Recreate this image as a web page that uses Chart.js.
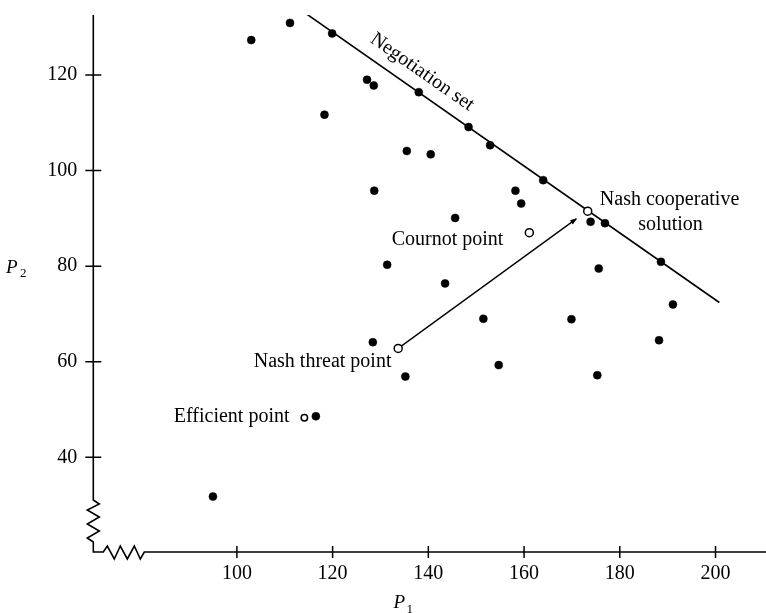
<!DOCTYPE html>
<html>
<head>
<meta charset="utf-8">
<script src="https://cdn.jsdelivr.net/npm/chart.js@4.4.1/dist/chart.umd.min.js"></script>
<style>
  html, body { margin: 0; padding: 0; background: #fff; }
  canvas { display: block; }
</style>
</head>
<body>
<canvas id="myChart" width="766" height="613"></canvas>
<script>
// outcomes (P1, P2)
const filledP1 = [103.0, 111.1, 119.9, 118.3, 127.2, 128.6, 138.0, 148.4, 152.9, 135.5, 140.5,
  164.0, 128.7, 158.2, 159.4, 145.6, 173.9, 176.9, 188.6, 175.6, 191.1, 131.4, 143.5, 151.5,
  169.9, 188.2, 128.4, 135.2, 154.7, 175.3, 116.5, 95.0];
const filledP2 = [127.3, 130.9, 128.7, 111.7, 119.0, 117.8, 116.4, 109.1, 105.3, 104.1, 103.4,
  98.0, 95.8, 95.8, 93.1, 90.1, 89.3, 89.0, 80.9, 79.5, 72.0, 80.3, 76.4, 69.0,
  68.9, 64.5, 64.1, 56.9, 59.3, 57.2, 48.6, 31.8];

// special points (open circles)
const openNames = ["Nash threat point", "Cournot point", "Nash cooperative solution", "Efficient point"];
const openP1 = [133.7, 161.1, 173.3, 114.1];
const openP2 = [62.8, 87.0, 91.5, 48.3];

// negotiation set line and the threat -> cooperative arrow
const negotiationP1 = [112.5, 200.8];
const negotiationP2 = [134.2, 72.4];
const arrowP1 = [133.7, 170.9];
const arrowP2 = [62.8, 89.9];

const p1Ticks = [100, 120, 140, 160, 180, 200];
const p2Ticks = [40, 60, 80, 100, 120];

// text labels, anchored in data units
const textLabels = [
  { text: "Negotiation set", x: 138.7, y: 120.6, align: "center", along: true },
  { text: "Nash cooperative", x: 190.4, y: 93.8, align: "center" },
  { text: "solution", x: 190.6, y: 88.6, align: "center" },
  { text: "Cournot point", x: 144.0, y: 85.5, align: "center" },
  { text: "Nash threat point", x: 132.3, y: 60.0, align: "right" },
  { text: "Efficient point", x: 111.0, y: 48.5, align: "right" }
];

const serif = '"Liberation Serif", "Times New Roman", serif';

function pts(xs, ys) {
  return xs.map((v, i) => ({ x: v, y: ys[i] }));
}

// axes with the zigzag breaks, tick marks crossing the axes
const axesPlugin = {
  id: "brokenAxes",
  afterDraw(chart) {
    const ctx = chart.ctx;
    const a = chart.chartArea;
    const x = chart.scales.x, y = chart.scales.y;
    const L = a.left, B = a.bottom;
    ctx.save();
    ctx.strokeStyle = "#000";
    ctx.lineWidth = 1.6;
    ctx.beginPath();
    ctx.moveTo(L, a.top);
    ctx.lineTo(L, B - 52);
    const yz = [[6, -48], [-6, -42], [6, -35], [-6, -28], [6, -21], [-6, -14], [0, -10], [0, 0]];
    yz.forEach(p => ctx.lineTo(L + p[0], B + p[1]));
    const xz = [[10, 0], [14, -6], [21, 7], [27, -6], [34, 7], [41, -6], [47, 7], [51, 0], [chart.width - L, 0]];
    xz.forEach(p => ctx.lineTo(L + p[0], B + p[1]));
    ctx.stroke();

    ctx.lineWidth = 1.5;
    ctx.beginPath();
    p1Ticks.forEach(v => {
      const px = x.getPixelForValue(v);
      ctx.moveTo(px, B - 6);
      ctx.lineTo(px, B + 6);
    });
    p2Ticks.forEach(v => {
      const py = y.getPixelForValue(v);
      ctx.moveTo(L - 8, py);
      ctx.lineTo(L + 8, py);
    });
    ctx.stroke();

    // axis titles
    ctx.fillStyle = "#000";
    ctx.textBaseline = "alphabetic";
    ctx.textAlign = "left";
    const py2 = y.getPixelForValue(80);
    ctx.font = "italic 19px " + serif;
    ctx.fillText("P", 6, py2 + 7);
    ctx.font = "13px " + serif;
    ctx.fillText("2", 20, py2 + 11);
    const px1 = x.getPixelForValue(134);
    ctx.font = "italic 19px " + serif;
    ctx.fillText("P", px1 - 6, B + 56);
    ctx.font = "13px " + serif;
    ctx.fillText("1", px1 + 7, B + 61);
    ctx.restore();
  }
};

const labelPlugin = {
  id: "textLabels",
  afterDatasetsDraw(chart) {
    const ctx = chart.ctx;
    const x = chart.scales.x, y = chart.scales.y;
    const ang = Math.atan2(
      y.getPixelForValue(negotiationP2[1]) - y.getPixelForValue(negotiationP2[0]),
      x.getPixelForValue(negotiationP1[1]) - x.getPixelForValue(negotiationP1[0]));
    ctx.save();
    ctx.fillStyle = "#000";
    ctx.font = "20px " + serif;
    ctx.textBaseline = "middle";
    textLabels.forEach(l => {
      const px = x.getPixelForValue(l.x), py = y.getPixelForValue(l.y);
      ctx.save();
      ctx.translate(px, py);
      if (l.along) ctx.rotate(ang);
      ctx.textAlign = l.align;
      ctx.fillText(l.text, 0, 0);
      ctx.restore();
    });

    // arrow head at the end of the threat line
    const x0 = x.getPixelForValue(arrowP1[0]), y0 = y.getPixelForValue(arrowP2[0]);
    const x1 = x.getPixelForValue(arrowP1[1]), y1 = y.getPixelForValue(arrowP2[1]);
    const t = Math.atan2(y1 - y0, x1 - x0);
    ctx.translate(x1, y1);
    ctx.rotate(t);
    ctx.beginPath();
    ctx.moveTo(1, 0);
    ctx.lineTo(-6, -2.5);
    ctx.lineTo(-6, 2.5);
    ctx.closePath();
    ctx.fill();
    ctx.restore();
  }
};

new Chart("myChart", {
  type: "scatter",
  data: {
    datasets: [
      {
        data: pts(openP1, openP2),
        pointRadius: ctx => openNames[ctx.dataIndex] === "Efficient point" ? 3.2 : 4,
        pointBackgroundColor: "#fff",
        pointBorderColor: "#000",
        pointBorderWidth: 1.5
      },
      {
        data: pts(filledP1, filledP2),
        pointRadius: 4,
        pointBackgroundColor: "#000",
        pointBorderColor: "#000",
        pointBorderWidth: 0.5
      },
      {
        data: pts(negotiationP1, negotiationP2),
        showLine: true,
        borderColor: "#000",
        borderWidth: 1.6,
        pointRadius: 0
      },
      {
        data: pts(arrowP1, arrowP2),
        showLine: true,
        borderColor: "#000",
        borderWidth: 1.4,
        pointRadius: 0
      }
    ]
  },
  options: {
    responsive: false,
    animation: false,
    devicePixelRatio: 1,
    layout: { padding: { top: 15, right: 0, bottom: 0, left: 0 } },
    plugins: {
      legend: { display: false },
      tooltip: { enabled: false }
    },
    scales: {
      x: {
        type: "linear",
        min: 70,
        max: 209.4,
        grid: { display: false, drawTicks: false },
        border: { display: false },
        ticks: { color: "#000", padding: 10, font: { family: serif, size: 20 } },
        afterBuildTicks: s => { s.ticks = p1Ticks.map(v => ({ value: v })); },
        afterFit: s => { s.height = 61; s.paddingLeft = 0; s.paddingRight = 0; }
      },
      y: {
        type: "linear",
        min: 20.2,
        max: 132.55,
        grid: { display: false, drawTicks: false },
        border: { display: false },
        ticks: { color: "#000", padding: 16, font: { family: serif, size: 20 } },
        afterBuildTicks: s => { s.ticks = p2Ticks.map(v => ({ value: v })); },
        afterFit: s => { s.width = 93.3; s.paddingTop = 0; s.paddingBottom = 0; }
      }
    }
  },
  plugins: [axesPlugin, labelPlugin]
});
</script>
</body>
</html>
